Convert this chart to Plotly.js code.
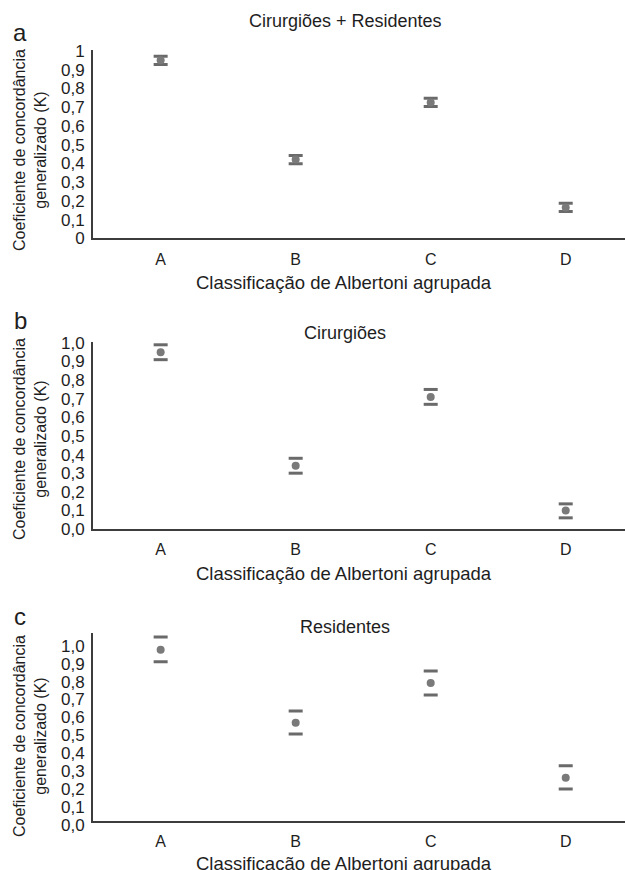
<!DOCTYPE html>
<html><head><meta charset="utf-8">
<script src="https://cdn.plot.ly/plotly-3.0.1.min.js"></script>
<style>html,body{margin:0;padding:0;background:#fff}#chart{width:625px;height:870px}</style>
</head><body><div id="chart"></div>
<script>
// ---- data ----
const categories = ['A', 'B', 'C', 'D'];
const panelTitles = ['Cirurgiões + Residentes', 'Cirurgiões', 'Residentes'];
const panelLetters = ['a', 'b', 'c'];
const xAxisTitle = 'Classificação de Albertoni agrupada';
const yAxisTitle = 'Coeficiente de concordância<br>generalizado (K)';

// a: Cirurgiões + Residentes
const kappaAll = [0.95, 0.42, 0.725, 0.165];
const upperAll = [0.972, 0.442, 0.747, 0.187];
const lowerAll = [0.928, 0.398, 0.703, 0.143];
// b: Cirurgiões
const kappaSurg = [0.95, 0.34, 0.71, 0.10];
const upperSurg = [0.99, 0.38, 0.75, 0.135];
const lowerSurg = [0.91, 0.30, 0.67, 0.06];
// c: Residentes
const kappaRes = [0.955, 0.547, 0.769, 0.240];
const upperRes = [1.026, 0.613, 0.836, 0.307];
const lowerRes = [0.888, 0.484, 0.702, 0.177];

const tickValues = [0, 0.1, 0.2, 0.3, 0.4, 0.5, 0.6, 0.7, 0.8, 0.9, 1.0];
const tickTextA = ['0', '0,1', '0,2', '0,3', '0,4', '0,5', '0,6', '0,7', '0,8', '0,9', '1'];
const tickTextBC = ['0,0', '0,1', '0,2', '0,3', '0,4', '0,5', '0,6', '0,7', '0,8', '0,9', '1,0'];

// ---- layout helpers (pixels) ----
const W = 625, H = 870, L = 93, R = 0;
const PW = W - L - R;
const px2x = p => (p - L) / PW;
const px2y = p => 1 - p / H;

const panels = [
  {k: kappaAll, up: upperAll, lo: lowerAll, ticks: tickTextA, top: 50, bottom: 238.3, ymax: 1.005, shift: 0,
   title: 21, xt: 282, yt: 150, letter: 32},
  {k: kappaSurg, up: upperSurg, lo: lowerSurg, ticks: tickTextBC, top: 342, bottom: 529, ymax: 1.005, shift: 0,
   title: 333, xt: 573, yt: 439, letter: 320},
  {k: kappaRes, up: upperRes, lo: lowerRes, ticks: tickTextBC, top: 633, bottom: 820.7, ymax: 1.049, shift: 4,
   title: 627, xt: 863, yt: 736, letter: 616}
];

const FONT = 'Liberation Sans, Arial, Helvetica, sans-serif';
const TXT = '#1e1e1e';
const data = [];
const layout = {
  width: W, height: H,
  margin: {l: L, r: R, t: 0, b: 0, pad: 0},
  paper_bgcolor: '#fff', plot_bgcolor: '#fff',
  showlegend: false,
  font: {family: FONT, color: TXT, size: 16},
  annotations: []
};

panels.forEach((p, i) => {
  const n = i === 0 ? '' : String(i + 1);
  const xa = 'x' + n, ya = 'y' + n;
  data.push({
    type: 'scatter', mode: 'markers', x: categories, y: p.lo, xaxis: xa, yaxis: ya,
    marker: {symbol: 'line-ew', size: 10, line: {width: 3, color: '#6a6a6a'}}, hoverinfo: 'skip'
  });
  data.push({
    type: 'scatter', mode: 'markers', x: categories, y: p.up, xaxis: xa, yaxis: ya,
    marker: {symbol: 'line-ew', size: 10, line: {width: 3, color: '#6a6a6a'}}, hoverinfo: 'skip'
  });
  data.push({
    type: 'scatter', mode: 'markers', x: categories, y: p.k, xaxis: xa, yaxis: ya,
    marker: {symbol: 'circle', size: 8, color: '#7a7a7a', line: {width: 0}}
  });
  layout['xaxis' + n] = {
    anchor: ya, domain: [0, 1], type: 'category', categoryorder: 'array', categoryarray: categories,
    range: [-0.501, 3.439], showline: true, linecolor: '#3c3c3c', linewidth: 2,
    showgrid: false, zeroline: false, ticks: '', ticklabelstandoff: 5,
    tickfont: {size: 16, color: TXT, family: FONT}, fixedrange: true
  };
  layout['yaxis' + n] = {
    anchor: xa, domain: [px2y(p.bottom), px2y(p.top)], range: [0, p.ymax],
    showline: true, linecolor: '#3c3c3c', linewidth: 2, showgrid: false, zeroline: false,
    ticks: '', tickmode: 'array', tickvals: tickValues, ticktext: p.ticks,
    ticklabelstandoff: 3, ticklabelshift: p.shift,
    tickfont: {size: 17, color: TXT, family: FONT}, fixedrange: true
  };
  layout.annotations.push(
    {text: panelTitles[i], xref: 'paper', yref: 'paper', x: px2x(345), y: px2y(p.title),
     xanchor: 'center', yanchor: 'middle', showarrow: false, font: {size: 18, color: TXT, family: FONT}},
    {text: xAxisTitle, xref: 'paper', yref: 'paper', x: px2x(344), y: px2y(p.xt),
     xanchor: 'center', yanchor: 'middle', showarrow: false, font: {size: 18.5, color: TXT, family: FONT}},
    {text: yAxisTitle, xref: 'paper', yref: 'paper', x: px2x(30), y: px2y(p.yt), textangle: -90,
     xanchor: 'center', yanchor: 'middle', showarrow: false, font: {size: 16, color: TXT, family: FONT}},
    {text: panelLetters[i], xref: 'paper', yref: 'paper', x: px2x(20), y: px2y(p.letter),
     xanchor: 'center', yanchor: 'middle', showarrow: false, font: {size: 24, color: TXT, family: FONT}}
  );
});

Plotly.newPlot('chart', data, layout, {displayModeBar: false, staticPlot: true});
</script>
</body></html>
